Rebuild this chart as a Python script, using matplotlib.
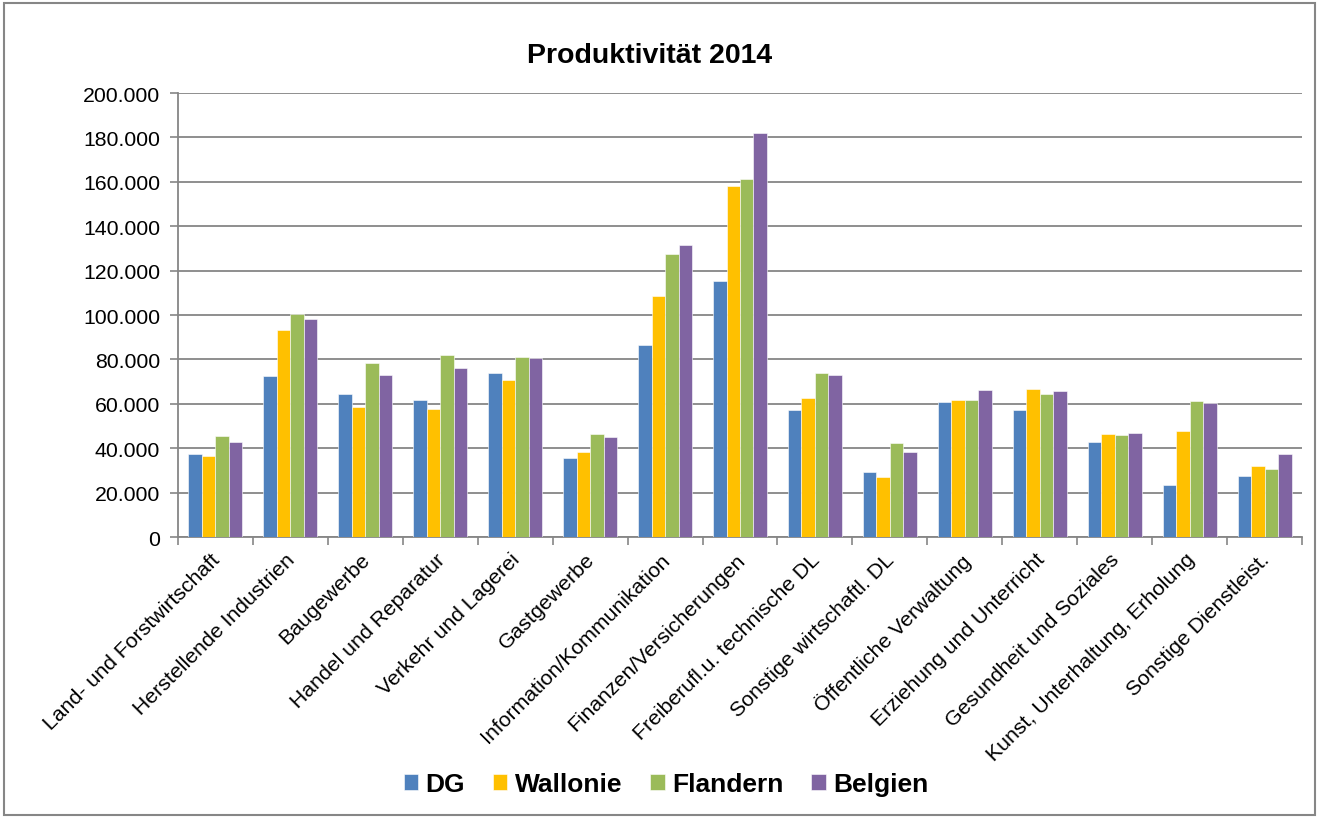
import numpy as np
import matplotlib.pyplot as plt
from matplotlib.ticker import FuncFormatter, FixedLocator
from matplotlib.patches import Rectangle
from matplotlib.transforms import ScaledTranslation

plt.rcParams['font.family'] = ['Liberation Sans', 'DejaVu Sans']

categories = ['Land- und Forstwirtschaft', 'Herstellende Industrien', 'Baugewerbe',
              'Handel und Reparatur', 'Verkehr und Lagerei', 'Gastgewerbe',
              'Information/Kommunikation', 'Finanzen/Versicherungen',
              'Freiberufl.u. technische DL', 'Sonstige wirtschaftl. DL',
              'Öffentliche Verwaltung', 'Erziehung und Unterricht',
              'Gesundheit und Soziales', 'Kunst, Unterhaltung, Erholung',
              'Sonstige Dienstleist.']

dg = [37600, 72300, 64200, 61700, 73800, 35400, 86400, 115100,
      57400, 29500, 60900, 57400, 42600, 23300, 27500]
wallonie = [36500, 93400, 58500, 57600, 70700, 38100, 108600, 158100,
            62400, 26900, 61500, 66600, 46300, 47700, 32000]
flandern = [45400, 100500, 78500, 81800, 80900, 46500, 127300, 161100,
            73700, 42400, 61800, 64500, 45900, 61100, 30800]
belgien = [42700, 98000, 73100, 76200, 80500, 44900, 131500, 181800,
           73100, 38500, 66300, 65700, 46900, 60200, 37300]

series = [('DG', dg, '#4F81BD'), ('Wallonie', wallonie, '#FFC000'),
          ('Flandern', flandern, '#9BBB59'), ('Belgien', belgien, '#8064A2')]

fig = plt.figure(figsize=(13.19, 8.2), dpi=100)
ax = fig.add_axes([178 / 1319, 1 - 538 / 820, (1302 - 178) / 1319, (538 - 94) / 820])

x = np.arange(len(categories))
w = 0.18
for i, (name, vals, col) in enumerate(series):
    ax.bar(x + (i - 1.5) * w, vals, w, color=col, label=name,
           edgecolor='white', linewidth=0.4, zorder=3)

ax.set_xlim(-0.5, len(categories) - 0.5)
ax.set_ylim(0, 200000)
ax.set_yticks(np.arange(0, 200001, 20000))
ax.yaxis.set_major_formatter(FuncFormatter(lambda v, p: f'{int(v):,}'.replace(',', '.')))
ax.grid(axis='y', color='#868686', linewidth=1.3, zorder=0)

ax.set_xticks(x)
ax.set_xticklabels(categories, rotation=45, ha='right', rotation_mode='anchor')
ax.xaxis.set_minor_locator(FixedLocator(np.arange(-0.5, len(categories), 1)))
ax.tick_params(axis='x', which='major', length=0, pad=9, labelsize=15.3)
ax.tick_params(axis='x', which='minor', length=6, color='#868686', width=1.2)
ax.tick_params(axis='y', length=6, color='#868686', width=1.2, labelsize=15.3, pad=7)

# nudge category labels a little to the left, like the original
shift = ScaledTranslation(-5 / 100, 0, fig.dpi_scale_trans)
for lbl in ax.get_xticklabels():
    lbl.set_transform(lbl.get_transform() + shift)

for s in ['top', 'right']:
    ax.spines[s].set_visible(False)
for s in ['left', 'bottom']:
    ax.spines[s].set_color('#868686')
    ax.spines[s].set_linewidth(1.3)

fig.text(650 / 1319, 1 - 56 / 820, 'Produktivität 2014', ha='center', va='center',
         fontsize=20.5, fontweight='bold')

fig.legend(loc='center', bbox_to_anchor=(666 / 1319, 1 - 785 / 820), ncol=4,
           frameon=False, prop={'weight': 'bold', 'size': 19},
           handlelength=0.55, handleheight=0.55, handletextpad=0.28, columnspacing=1.05)

fig.patches.append(Rectangle((4 / 1319, 4 / 820), 1311 / 1319, 812 / 820,
                             transform=fig.transFigure, fill=False,
                             edgecolor='#868686', linewidth=1.5))

fig.savefig('out.png', dpi=100)
